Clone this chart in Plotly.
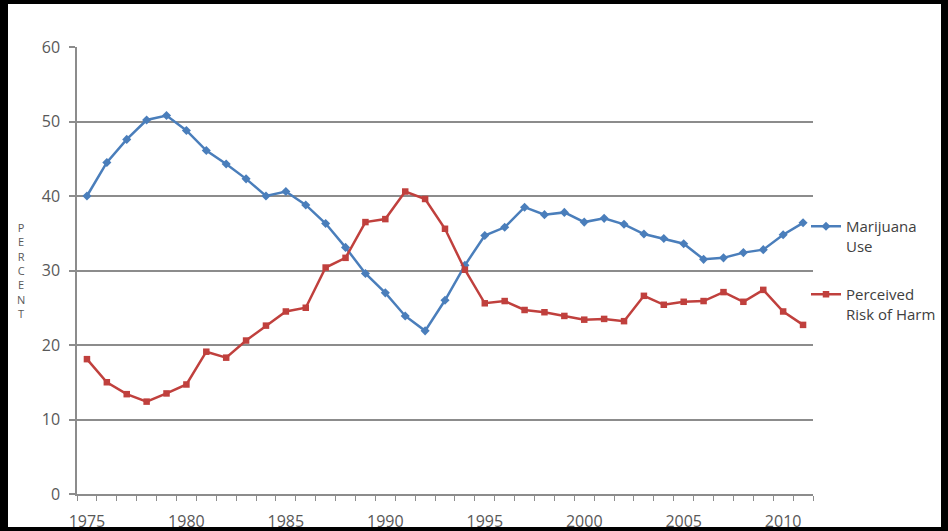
import plotly.graph_objects as go

# Survey years
years = list(range(1975, 2012))

# Annual marijuana use (%)
marijuana_use = [40.0, 44.5, 47.6, 50.2, 50.8, 48.8, 46.1, 44.3, 42.3, 40.0,
                 40.6, 38.8, 36.3, 33.1, 29.6, 27.0, 23.9, 21.9, 26.0, 30.7,
                 34.7, 35.8, 38.5, 37.5, 37.8, 36.5, 37.0, 36.2, 34.9, 34.3,
                 33.6, 31.5, 31.7, 32.4, 32.8, 34.8, 36.4]

# Perceived great risk of harm (%)
perceived_risk = [18.1, 15.0, 13.4, 12.4, 13.5, 14.7, 19.1, 18.3, 20.6, 22.6,
                  24.5, 25.0, 30.4, 31.7, 36.5, 36.9, 40.6, 39.6, 35.6, 30.1,
                  25.6, 25.9, 24.7, 24.4, 23.9, 23.4, 23.5, 23.2, 26.6, 25.4,
                  25.8, 25.9, 27.1, 25.8, 27.4, 24.5, 22.7]

y_ticks = [0, 10, 20, 30, 40, 50, 60]

BLUE = "#4a7ebb"
RED = "#c0403d"
GRID = "#8c8c8c"
TEXT = "#595959"
FONT = "Open Sans, Liberation Sans, sans-serif"

W, H = 948, 531
ML, MR, MT, MB = 77, 135, 47, 37
PW, PH = W - ML - MR, H - MT - MB


def px_x(p):
    return (p - ML) / PW


def px_y(p):
    return (H - MB - p) / PH


fig = go.Figure()
fig.add_trace(go.Scatter(
    x=years, y=marijuana_use, name="Marijuana<br>Use",
    mode="lines+markers", legendgroup="a",
    line=dict(color=BLUE, width=2.5),
    marker=dict(symbol="diamond", size=7, color=BLUE),
))
fig.add_trace(go.Scatter(
    x=years, y=perceived_risk, name="Perceived<br>Risk of Harm",
    mode="lines+markers", legendgroup="b",
    line=dict(color=RED, width=2.5),
    marker=dict(symbol="square", size=6.5, color=RED),
))

# white sheet inside the dark frame
fig.add_shape(type="rect", xref="paper", yref="paper", layer="below",
              x0=px_x(8), x1=px_x(941), y0=px_y(527), y1=px_y(4),
              fillcolor="white", line=dict(width=0))

# stacked vertical axis title
fig.add_annotation(xref="paper", yref="paper", x=px_x(21), y=px_y(270),
                   text="<br>".join("PERCENT"), showarrow=False,
                   font=dict(family=FONT, size=11, color=TEXT),
                   xanchor="center", yanchor="middle", align="center")

fig.update_layout(
    width=W, height=H,
    margin=dict(l=ML, r=MR, t=MT, b=MB, pad=0, autoexpand=False),
    paper_bgcolor="black", plot_bgcolor="white",
    font=dict(family=FONT, size=16, color=TEXT),
    showlegend=True,
    legend=dict(
        x=px_x(806), y=px_y(210), xanchor="left", yanchor="top",
        bgcolor="rgba(0,0,0,0)", valign="top",
        traceorder="grouped", tracegroupgap=26,
        font=dict(family=FONT, size=15, color="#404040"),
    ),
    xaxis=dict(
        range=[1974.5, 2011.5], tickmode="linear", tick0=1975, dtick=5,
        ticks="", showgrid=False, zeroline=False,
        showline=True, linecolor=GRID, linewidth=1.5,
        ticklabelstandoff=12,
        tickfont=dict(family=FONT, size=16, color=TEXT),
        minor=dict(tickmode="linear", tick0=1974.5, dtick=1,
                   ticks="outside", ticklen=5, tickcolor=GRID,
                   tickwidth=1.2, showgrid=False),
    ),
    yaxis=dict(
        range=[0, 60], tickmode="array", tickvals=y_ticks,
        ticks="outside", ticklen=6, tickcolor=GRID, tickwidth=1.5,
        showgrid=True, gridcolor=GRID, gridwidth=1.5, zeroline=False,
        showline=True, linecolor=GRID, linewidth=1.5,
        ticklabelstandoff=6,
        tickfont=dict(family=FONT, size=16, color=TEXT),
    ),
)

fig.write_html("out.html", config={"displayModeBar": False})
